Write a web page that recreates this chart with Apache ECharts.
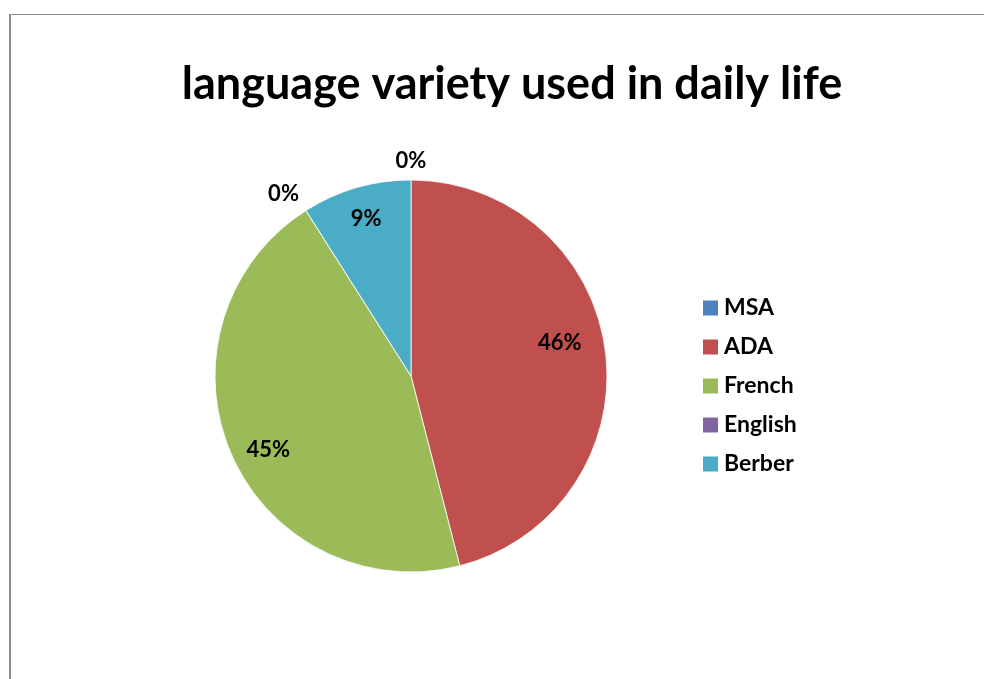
<!DOCTYPE html>
<html>
<head>
<meta charset="utf-8">
<script src="https://cdn.jsdelivr.net/npm/echarts@6/dist/echarts.min.js"></script>
<style>
  html, body { margin: 0; padding: 0; background: #fff; }
  #frame {
    position: absolute; left: 9px; top: 14px; width: 990px; height: 680px;
    border-left: 2px solid #8c8c8c; border-top: 1px solid #8c8c8c;
  }
  #chart { position: absolute; left: 0; top: 0; width: 984px; height: 679px; }
</style>
</head>
<body>
<div id="frame"></div>
<div id="chart"></div>
<script>
// Language varieties and their share of daily use
const categories = ['MSA', 'ADA', 'French', 'English', 'Berber'];
const shares = [0, 46, 45, 0, 9];
const colors = ['#4F81BD', '#C0504D', '#9BBB59', '#8064A2', '#4BACC6'];
const titleText = 'language variety used in daily life';

const FONT = 'Lato, "Open Sans", sans-serif';
const CENTER = [411, 376];
const R = 196;

// small nudges so each percentage sits where the best-fit layout puts it
const labelNudge = {
  MSA: [0, 8], ADA: [-11, -13], French: [5, 10], English: [-8, 6], Berber: [0, -2]
};

const sliceData = categories.map((name, i) => ({
  name, value: shares[i], itemStyle: { color: colors[i] }
}));

// transparent ring that carries the percentage labels
function labelRing(showItem) {
  return categories.map((name, i) => ({
    name, value: shares[i],
    label: { show: showItem(shares[i]), offset: labelNudge[name] }
  }));
}

const labelStyle = {
  position: 'inside', formatter: '{d}%',
  fontFamily: FONT, fontWeight: 'bold', fontSize: 22, color: '#000'
};

const chart = echarts.init(document.getElementById('chart'), null, { renderer: 'canvas' });
chart.setOption({
  animation: false,
  backgroundColor: 'transparent',
  title: {
    text: titleText,
    left: 512, top: 62, textAlign: 'center', padding: 0,
    textStyle: { fontFamily: FONT, fontWeight: 'bold', fontSize: 45, color: '#000' }
  },
  legend: {
    orient: 'vertical', left: 701, top: 296,
    itemWidth: 17, itemHeight: 17, itemGap: 15,
    icon: 'rect', padding: 0,
    data: categories,
    textStyle: { fontFamily: FONT, fontWeight: 'bold', fontSize: 23, lineHeight: 24, color: '#000' }
  },
  series: [
    {
      type: 'pie', center: CENTER, radius: [0, R],
      startAngle: 90, clockwise: true, percentPrecision: 0,
      label: { show: false }, labelLine: { show: false },
      itemStyle: { borderColor: '#fff', borderWidth: 0.8 },
      emphasis: { disabled: true },
      data: sliceData
    },
    {
      type: 'pie', center: CENTER, radius: [120, R], silent: true,
      startAngle: 90, clockwise: true, percentPrecision: 0,
      itemStyle: { color: 'transparent', borderWidth: 0 },
      labelLine: { show: false }, label: labelStyle,
      emphasis: { disabled: true },
      data: labelRing(v => v > 0)
    },
    {
      type: 'pie', center: CENTER, radius: [200, 240], silent: true,
      startAngle: 90, clockwise: true, percentPrecision: 0,
      itemStyle: { color: 'transparent', borderWidth: 0 },
      labelLine: { show: false }, label: labelStyle,
      emphasis: { disabled: true },
      data: labelRing(v => v === 0)
    }
  ]
});
</script>
</body>
</html>
